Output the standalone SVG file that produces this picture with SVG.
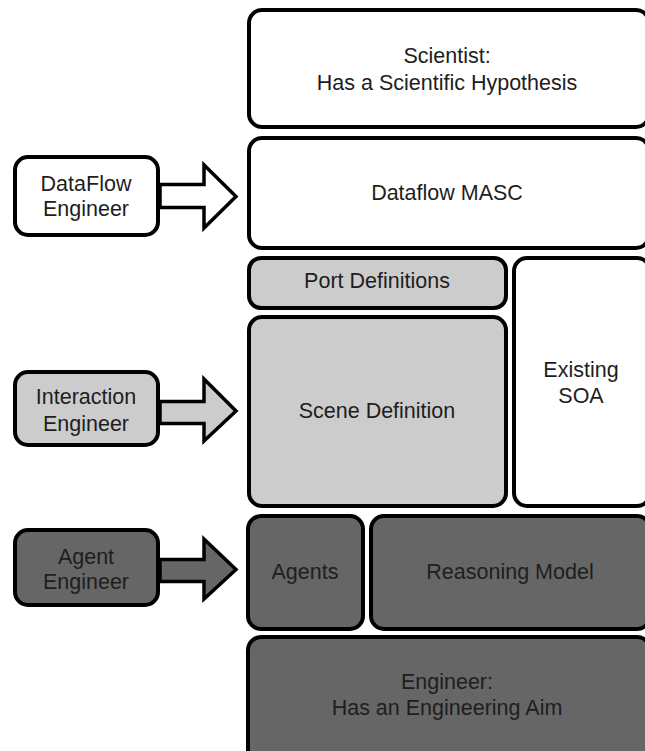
<svg xmlns="http://www.w3.org/2000/svg" width="645" height="751" viewBox="0 0 645 751">
<style>
.b{stroke:#000;stroke-width:4;stroke-linejoin:round}
.w{fill:#fff}.l{fill:#ccc}.d{fill:#666}
.a{stroke:#000;stroke-width:3.5;stroke-linejoin:miter}
text{font-family:"Liberation Sans",Arial,sans-serif;font-size:21.5px;fill:#1e1e1e;text-anchor:middle}
</style>
<rect width="645" height="751" fill="#fff"/>
<g id="scientist"><rect class="b w" x="249" y="10" width="400" height="117" rx="13"/><text x="447" y="63">Scientist:</text><text x="447" y="90">Has a Scientific Hypothesis</text></g>
<g id="dataflow-masc"><rect class="b w" x="249" y="138" width="400" height="110" rx="13"/><text x="447" y="200">Dataflow MASC</text></g>
<g id="port-definitions"><rect class="b l" x="249" y="258" width="257" height="50" rx="12"/><text x="377" y="288">Port Definitions</text></g>
<g id="scene-definition"><rect class="b l" x="249" y="317" width="257" height="189" rx="13"/><text x="377" y="418">Scene Definition</text></g>
<g id="existing-soa"><rect class="b w" x="514" y="258" width="136" height="248" rx="13"/><text x="581" y="377">Existing</text><text x="581" y="403">SOA</text></g>
<g id="agents"><rect class="b d" x="248" y="516" width="115" height="113" rx="13"/><text x="305" y="579">Agents</text></g>
<g id="reasoning-model"><rect class="b d" x="371" y="516" width="279" height="113" rx="13"/><text x="510" y="579">Reasoning Model</text></g>
<g id="engineer"><rect class="b d" x="248" y="637" width="402" height="130" rx="13"/><text x="447" y="689">Engineer:</text><text x="447" y="715">Has an Engineering Aim</text></g>
<g id="dataflow-engineer"><rect class="b w" x="15" y="157" width="143" height="78" rx="13"/><text x="86" y="191">DataFlow</text><text x="86" y="216">Engineer</text></g>
<g id="interaction-engineer"><rect class="b l" x="15" y="372" width="143" height="73" rx="13"/><text x="86" y="404">Interaction</text><text x="86" y="431">Engineer</text></g>
<g id="agent-engineer"><rect class="b d" x="15" y="530" width="143" height="75" rx="13"/><text x="86" y="564">Agent</text><text x="86" y="589">Engineer</text></g>
<g id="connectors">
<polygon class="a w" points="160,184.5 204,184.5 204,165 236,196.5 204,228 204,207.5 160,207.5"/>
<polygon class="a l" points="160,401.5 204,401.5 204,379 236,411 204,441 204,423.5 160,423.5"/>
<polygon class="a d" points="160,559.5 204,559.5 204,539 236,569.5 204,599 204,581.5 160,581.5"/>
</g>
</svg>
